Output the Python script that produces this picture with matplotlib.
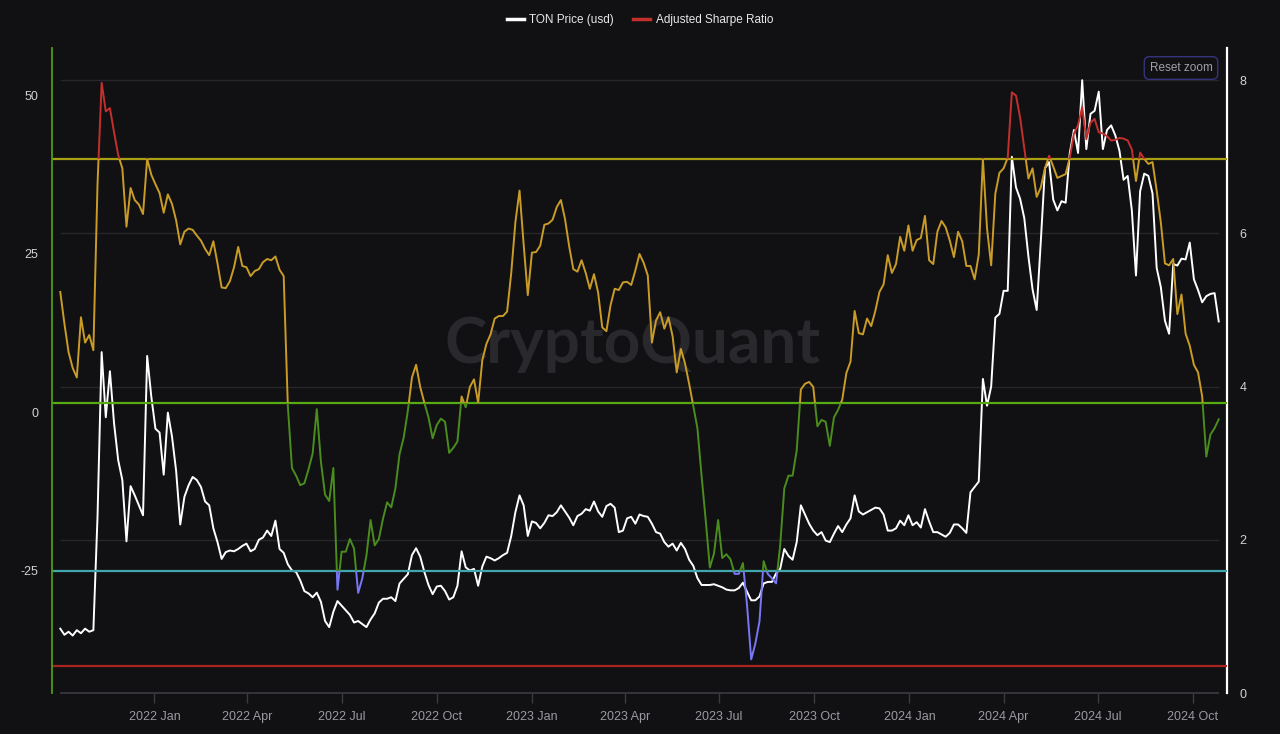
import numpy as np
import pandas as pd
import matplotlib
matplotlib.use('Agg')
import matplotlib.pyplot as plt
import matplotlib.dates as mdates
import matplotlib.transforms as mtransforms
from matplotlib.patches import Rectangle
from matplotlib.lines import Line2D

# adjusted sharpe ratio, every 4 days from 2021-10-02
sharpe = [
    19.0, 14.0, 9.5, 7.0, 5.5, 15.0, 11.0, 12.2, 9.8, 36.0,
    52.0, 47.5, 48.0, 44.2, 40.6, 38.5, 29.3, 35.4, 33.5, 32.8,
    31.3, 40.0, 37.5, 36.0, 34.6, 31.5, 34.4, 32.9, 30.3, 26.5,
    28.5, 29.0, 28.8, 27.9, 27.1, 25.8, 24.8, 27.0, 23.5, 19.7,
    19.6, 20.7, 22.9, 26.1, 23.1, 22.9, 21.5, 22.3, 22.6, 23.7,
    24.2, 24.0, 24.6, 22.5, 21.5, 1.0, -8.8, -10.0, -11.5, -11.2,
    -9.0, -6.5, 0.5, -7.8, -13.0, -14.0, -8.8, -28.0, -22.0, -22.0,
    -20.0, -21.5, -28.5, -26.2, -22.6, -17.0, -21.0, -20.0, -16.8, -14.2,
    -15.0, -12.0, -6.6, -4.0, 0.2, 5.5, 7.5, 4.0, 1.5, -0.8,
    -4.1, -2.0, -1.0, -1.5, -6.4, -5.6, -4.6, 2.5, 0.8, 4.0,
    5.2, 1.5, 8.2, 10.8, 12.3, 14.8, 15.2, 15.2, 15.9, 22.0,
    30.0, 35.0, 26.5, 18.5, 25.2, 25.3, 26.3, 29.6, 29.8, 30.4,
    32.4, 33.5, 30.5, 26.2, 22.6, 22.2, 24.0, 22.0, 19.5, 21.8,
    18.9, 13.4, 12.8, 16.9, 19.5, 19.3, 20.5, 20.6, 20.1, 22.4,
    25.0, 23.6, 21.6, 11.0, 14.5, 15.8, 13.2, 15.0, 12.0, 6.3,
    10.0, 7.7, 4.5, 1.0, -2.5, -10.0, -17.0, -24.5, -22.3, -17.0,
    -23.0, -22.4, -23.2, -25.5, -25.5, -23.8, -30.5, -39.0, -36.5, -33.0,
    -23.5, -25.5, -26.2, -27.0, -21.0, -12.0, -10.0, -10.0, -6.0, 3.6,
    4.5, 4.8, 4.0, -2.2, -1.2, -1.5, -5.3, -0.8, 0.4, 2.0,
    6.2, 8.0, 16.0, 12.5, 12.3, 14.8, 13.6, 16.0, 19.0, 20.2,
    24.8, 22.0, 23.4, 27.7, 25.5, 29.5, 25.5, 27.2, 27.5, 31.0,
    24.0, 23.4, 28.5, 30.2, 29.2, 27.1, 24.5, 28.5, 27.0, 23.1,
    23.1, 21.0, 24.9, 40.0, 29.0, 23.2, 34.5, 37.8, 38.5, 40.2,
    50.5, 50.0, 46.5, 41.7, 36.9, 38.5, 34.0, 35.5, 38.5, 40.5,
    38.8, 37.0, 37.3, 37.6, 40.2, 44.0, 45.3, 48.2, 43.1, 45.7,
    46.3, 44.2, 44.0, 43.6, 42.9, 43.0, 43.3, 43.2, 42.9, 41.5,
    36.5, 41.0, 40.0, 39.2, 39.5, 35.0, 30.0, 23.5, 23.2, 24.2,
    15.5, 18.6, 12.4, 10.5, 7.5, 6.3, 2.5, -7.0, -3.5, -2.5,
    -1.1]

# TON price in usd, same dates
price = [
    0.84, 0.76, 0.80, 0.75, 0.82, 0.78, 0.84, 0.80, 0.82, 2.30,
    4.45, 3.60, 4.20, 3.52, 3.04, 2.78, 1.98, 2.70, 2.58, 2.45,
    2.32, 4.40, 3.87, 3.45, 3.40, 2.85, 3.66, 3.35, 2.90, 2.20,
    2.56, 2.71, 2.82, 2.78, 2.69, 2.50, 2.45, 2.15, 1.97, 1.75,
    1.84, 1.86, 1.85, 1.88, 1.92, 1.95, 1.85, 1.88, 2.00, 2.03,
    2.12, 2.05, 2.25, 1.88, 1.83, 1.68, 1.60, 1.58, 1.47, 1.33,
    1.30, 1.25, 1.31, 1.19, 0.94, 0.86, 1.06, 1.20, 1.14, 1.08,
    1.02, 0.92, 0.94, 0.90, 0.86, 0.96, 1.04, 1.18, 1.23, 1.23,
    1.25, 1.20, 1.43, 1.49, 1.55, 1.80, 1.89, 1.78, 1.58, 1.41,
    1.29, 1.39, 1.40, 1.33, 1.22, 1.25, 1.40, 1.85, 1.64, 1.60,
    1.62, 1.40, 1.65, 1.78, 1.76, 1.73, 1.76, 1.80, 1.83, 2.05,
    2.36, 2.58, 2.45, 2.05, 2.24, 2.22, 2.15, 2.22, 2.32, 2.31,
    2.36, 2.45, 2.37, 2.29, 2.19, 2.31, 2.34, 2.40, 2.38, 2.50,
    2.37, 2.30, 2.44, 2.47, 2.42, 2.10, 2.12, 2.28, 2.30, 2.21,
    2.33, 2.31, 2.30, 2.21, 2.10, 2.08, 1.97, 1.91, 1.95, 1.86,
    1.96, 1.88, 1.74, 1.66, 1.50, 1.41, 1.41, 1.41, 1.42, 1.40,
    1.38, 1.35, 1.34, 1.34, 1.37, 1.44, 1.32, 1.21, 1.21, 1.26,
    1.43, 1.45, 1.45, 1.56, 1.62, 1.88, 1.79, 1.74, 1.97, 2.45,
    2.33, 2.21, 2.12, 2.06, 2.10, 1.99, 1.97, 2.08, 2.18, 2.10,
    2.20, 2.28, 2.58, 2.37, 2.33, 2.36, 2.39, 2.42, 2.41, 2.33,
    2.12, 2.12, 2.15, 2.25, 2.19, 2.32, 2.19, 2.23, 2.16, 2.40,
    2.24, 2.10, 2.10, 2.07, 2.04, 2.09, 2.20, 2.20, 2.15, 2.09,
    2.62, 2.69, 2.76, 4.10, 3.75, 4.00, 4.90, 4.95, 5.25, 5.25,
    7.00, 6.60, 6.45, 6.20, 5.70, 5.27, 5.00, 5.90, 6.85, 6.93,
    6.44, 6.30, 6.42, 6.40, 7.05, 7.35, 7.05, 8.00, 7.10, 7.56,
    7.60, 7.85, 7.10, 7.35, 7.41, 7.28, 7.08, 6.70, 6.75, 6.30,
    5.45, 6.55, 6.78, 6.75, 6.52, 5.55, 5.30, 4.86, 4.69, 5.60,
    5.58, 5.67, 5.66, 5.88, 5.40, 5.26, 5.10, 5.18, 5.21, 5.22,
    4.85]

dates = pd.date_range('2021-10-02', periods=len(sharpe), freq='4D')
xticks = pd.date_range('2022-01-01', '2024-10-01', freq='QS')

# threshold lines on the sharpe axis
levels = [40, 1.5, -25, -40]
level_colors = ['#a9a014', '#56aa12', '#42a6ae', '#a8241f']

# colour bands of the sharpe line
bands = [(40, 300, '#c3302c'), (1.5, 40, '#c99c27'), (-25, 1.5, '#4a8d1d'), (-300, -25, '#7777f7')]

bg = '#111114'
plt.rcParams['font.family'] = ['Liberation Sans', 'DejaVu Sans']
plt.rcParams['axes.unicode_minus'] = False

fig = plt.figure(figsize=(12.8, 7.34), dpi=100, facecolor=bg)
ax = fig.add_axes([52 / 1280, 1 - 693 / 734, 1175 / 1280, 645 / 734])
ax2 = ax.twinx()
ax.set_zorder(ax2.get_zorder() + 1)
ax.patch.set_visible(False)
ax2.patch.set_visible(True)
ax2.set_facecolor(bg)

ax.set_xlim(pd.Timestamp('2021-09-24'), pd.Timestamp('2024-11-03'))
ax.set_ylim(-44.3, 57.5)
ax2.set_ylim(0, 8.42)

# watermark
ax2.text(0.494, 0.54, 'CryptoQuant', transform=ax2.transAxes, ha='center', va='center',
         fontsize=46, color='#28282d', family='Lato', fontweight='bold', zorder=0)

# price grid + baseline
ax2.hlines([2, 4, 6, 8], dates[0], dates[-1], color='#26262b', lw=1, zorder=0.5)
ax2.hlines([0], dates[0], dates[-1], color='#3a3a41', lw=1.2, zorder=0.5, clip_on=False)

ax2.plot(dates, price, color='white', lw=1.4, zorder=2)

for lv, c in zip(levels, level_colors):
    ax.axhline(lv, color=c, lw=1.6, zorder=1)

trans = mtransforms.blended_transform_factory(ax.transAxes, ax.transData)
for lo, hi, c in bands:
    ln, = ax.plot(dates, sharpe, color=c, lw=1.4, zorder=3)
    clip = Rectangle((0, lo), 1, hi - lo, transform=trans, facecolor='none', edgecolor='none')
    ln.set_clip_path(clip)

for a in (ax, ax2):
    for s in ('top', 'bottom', 'left', 'right'):
        a.spines[s].set_visible(False)
ax.spines['left'].set_visible(True)
ax.spines['left'].set_color('#4f9a1b')
ax.spines['left'].set_linewidth(1.3)
ax2.spines['right'].set_visible(True)
ax2.spines['right'].set_color('white')
ax2.spines['right'].set_linewidth(1.6)

ax.set_yticks([-25, 0, 25, 50])
ax.tick_params(axis='y', length=0, pad=10, labelsize=9, labelcolor='#d2d2d6')
ax2.set_yticks([0, 2, 4, 6, 8])
ax2.tick_params(axis='y', length=0, pad=9, labelsize=9, labelcolor='#d2d2d6')

ax.set_xticks(xticks)
ax.xaxis.set_major_formatter(mdates.DateFormatter('%Y %b'))
ax.tick_params(axis='x', length=7, width=1, color='#3a3a41', pad=6, labelsize=9, labelcolor='#9a9aa0')

handles = [Line2D([], [], color='white', lw=2.5), Line2D([], [], color='#c3302c', lw=2.5)]
fig.legend(handles, ['TON Price (usd)', 'Adjusted Sharpe Ratio'], loc='center',
           bbox_to_anchor=(0.5, 1 - 20 / 734), ncol=2, frameon=False, fontsize=8.5,
           labelcolor='#e8e8ea', handlelength=1.4, handletextpad=0.5, columnspacing=1.6)

fig.text(1181 / 1280, 1 - 68 / 734, 'Reset zoom', ha='center', va='center', fontsize=8.5,
         color='#a0a0a8', bbox=dict(boxstyle='round,pad=0.45', fc=bg, ec='#34347e', lw=1))

fig.savefig('out.png', dpi=100, facecolor=bg)
